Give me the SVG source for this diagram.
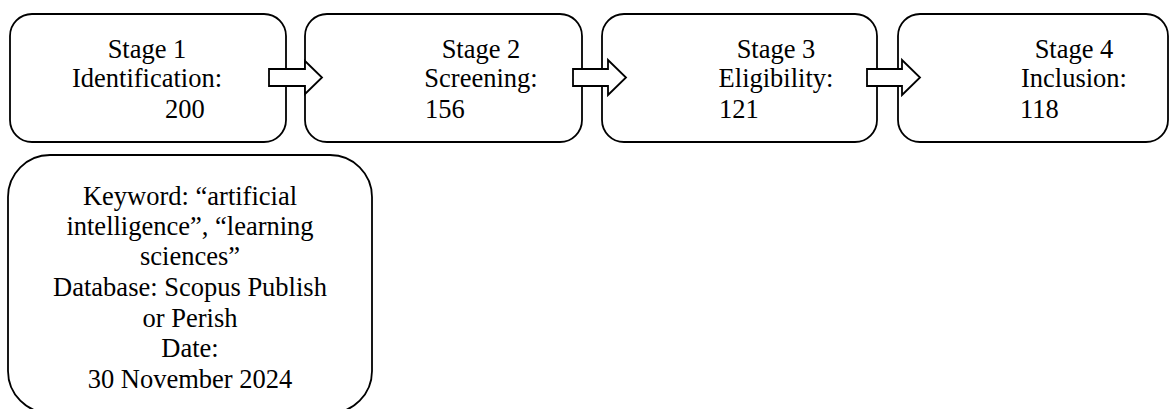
<svg xmlns="http://www.w3.org/2000/svg" width="1170" height="409" viewBox="0 0 1170 409">
<style>
.box{fill:#fff;stroke:#000;stroke-width:1.8}
.arr{fill:#fff;stroke:#000;stroke-width:1.8;stroke-linejoin:miter}
text{font-family:"Liberation Serif","Times New Roman",serif;font-size:26.5px;fill:#000}
.c{text-anchor:middle}
</style>
<rect width="1170" height="409" fill="#fff"/>
<g id="stage1">
<rect class="box" x="10" y="14" width="276" height="128" rx="22" ry="22"/>
<text class="c" x="147" y="58">Stage 1</text>
<text class="c" x="147" y="87">Identification:</text>
<text x="165" y="118">200</text>
</g>
<g id="stage2">
<rect class="box" x="305" y="14" width="277" height="128" rx="22" ry="22"/>
<text class="c" x="481" y="58">Stage 2</text>
<text class="c" x="481" y="87">Screening:</text>
<text x="425" y="118">156</text>
</g>
<g id="stage3">
<rect class="box" x="602" y="14" width="275" height="128" rx="22" ry="22"/>
<text class="c" x="776" y="58">Stage 3</text>
<text class="c" x="776" y="87">Eligibility:</text>
<text x="719" y="118">121</text>
</g>
<g id="stage4">
<rect class="box" x="898" y="14" width="270" height="128" rx="22" ry="22"/>
<text class="c" x="1074" y="58">Stage 4</text>
<text class="c" x="1074" y="87">Inclusion:</text>
<text x="1020" y="118">118</text>
</g>
<g id="search-details">
<rect class="box" x="8" y="155" width="364" height="258" rx="42" ry="42"/>
<text class="c" x="190" y="205">Keyword: “artificial</text>
<text class="c" x="190" y="235">intelligence”, “learning</text>
<text class="c" x="190" y="265">sciences”</text>
<text class="c" x="190" y="296">Database: Scopus Publish</text>
<text class="c" x="190" y="327">or Perish</text>
<text class="c" x="190" y="357">Date:</text>
<text class="c" x="190" y="388">30 November 2024</text>
</g>
<g id="connectors">
<path class="arr" d="M269,69 H305 V61 L322,77.5 L305,94 V86 H269 Z"/>
<path class="arr" d="M573,69 H608 V60 L626,77.5 L608,95 V86 H573 Z"/>
<path class="arr" d="M867,69 H902 V60 L920,77.5 L902,95 V86 H867 Z"/>
</g>
</svg>
